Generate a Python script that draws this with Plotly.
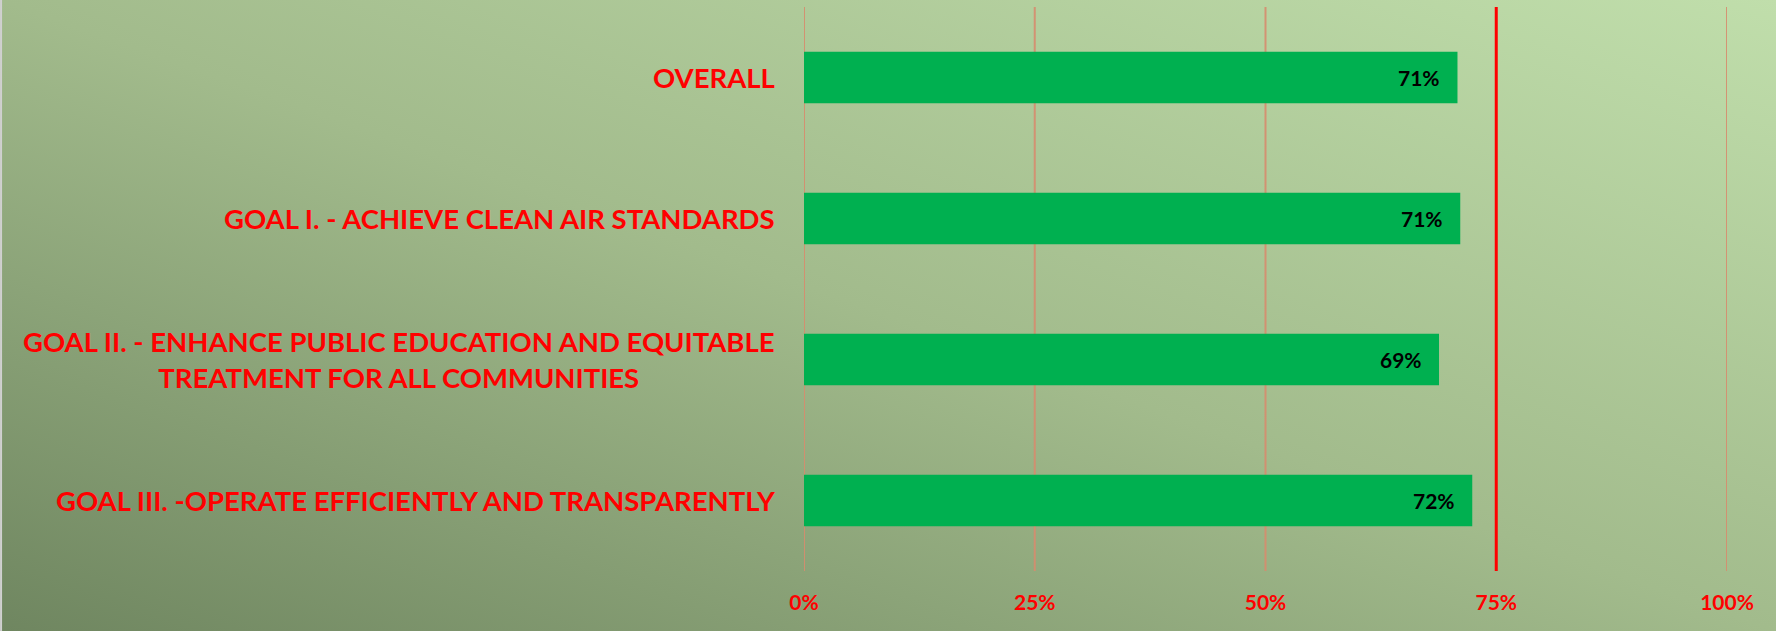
import base64
import plotly.graph_objects as go

categories = [
    "OVERALL",
    "GOAL I. - ACHIEVE CLEAN AIR STANDARDS",
    "GOAL II. - ENHANCE PUBLIC EDUCATION AND EQUITABLE<br>TREATMENT FOR ALL COMMUNITIES",
    "GOAL III. -OPERATE EFFICIENTLY AND TRANSPARENTLY",
]
values = [70.8, 71.1, 68.8, 72.4]
tick_values = [0, 25, 50, 75, 100]
tick_labels = ["0%", "25%", "50%", "75%", "100%"]
target = 75

W, H = 1776, 631
FONT = "Lato"
RED = "#ff0000"
GRID = "rgba(214,140,110,0.9)"

svg = (
    '<svg xmlns="http://www.w3.org/2000/svg" width="100" height="100" viewBox="0 0 100 100" preserveAspectRatio="none">'
    '<defs><linearGradient id="g" x1="0" y1="1" x2="1" y2="0">'
    '<stop offset="0" stop-color="#6f8660"/>'
    '<stop offset="0.5" stop-color="#a2bb8c"/>'
    '<stop offset="1" stop-color="#c0deab"/>'
    '</linearGradient></defs>'
    '<rect x="0" y="0" width="100" height="100" fill="url(#g)"/></svg>'
)
bg_uri = "data:image/svg+xml;base64," + base64.b64encode(svg.encode()).decode()

fig = go.Figure()
fig.add_trace(go.Bar(
    x=values,
    y=categories,
    orientation="h",
    marker=dict(color="#00b050", line=dict(width=0)),
    hoverinfo="skip",
))

annotations = []
for cat in categories:
    annotations.append(dict(
        x=0, xref="x", y=cat, yref="y",
        text=cat, showarrow=False,
        xanchor="right", yanchor="middle", align="center",
        xshift=-27,
        font=dict(family=FONT, size=27.5, color=RED, weight="bold"),
    ))
for cat, v in zip(categories, values):
    annotations.append(dict(
        x=v, xref="x", y=cat, yref="y",
        text=f"{round(v)}%", showarrow=False,
        xanchor="right", yanchor="middle",
        xshift=-15,
        font=dict(family=FONT, size=21, color="black", weight="bold"),
    ))

shapes = []
for tv in tick_values:
    if tv == target:
        continue
    shapes.append(dict(type="line", xref="x", yref="y domain",
                       x0=tv, x1=tv, y0=0, y1=1, layer="below",
                       line=dict(color=GRID, width=2)))
shapes.append(dict(type="line", xref="x", yref="y domain",
                   x0=target, x1=target, y0=0, y1=1,
                   line=dict(color=RED, width=3)))
shapes.append(dict(type="line", xref="paper", yref="paper",
                   x0=0.0006, x1=0.0006, y0=0, y1=1,
                   line=dict(color="#d0d0d0", width=2)))

fig.update_layout(
    width=W, height=H,
    autosize=False,
    margin=dict(l=0, r=0, t=0, b=0, pad=0, autoexpand=False),
    paper_bgcolor="#a2bb8c",
    plot_bgcolor="rgba(0,0,0,0)",
    showlegend=False,
    bargap=0.635,
    images=[dict(
        source=bg_uri, xref="paper", yref="paper",
        x=0, y=1, sizex=1, sizey=1,
        xanchor="left", yanchor="top",
        sizing="stretch", layer="below",
    )],
    xaxis=dict(
        domain=[804 / W, 1727 / W],
        range=[0, 100],
        tickvals=tick_values,
        ticktext=tick_labels,
        showgrid=False,
        zeroline=False,
        showline=False,
        ticks="",
        automargin=False,
        ticklabelstandoff=17,
        tickfont=dict(family=FONT, size=21, color=RED, weight="bold"),
        fixedrange=True,
    ),
    yaxis=dict(
        domain=[1 - 571 / H, 1 - 7 / H],
        autorange="reversed",
        showticklabels=False,
        showgrid=False,
        zeroline=False,
        showline=False,
        ticks="",
        automargin=False,
        fixedrange=True,
    ),
    shapes=shapes,
    annotations=annotations,
)

fig.write_html(
    "out.html",
    config={"displayModeBar": False},
    post_script="document.body.style.margin='0';document.body.style.overflow='hidden';",
)
